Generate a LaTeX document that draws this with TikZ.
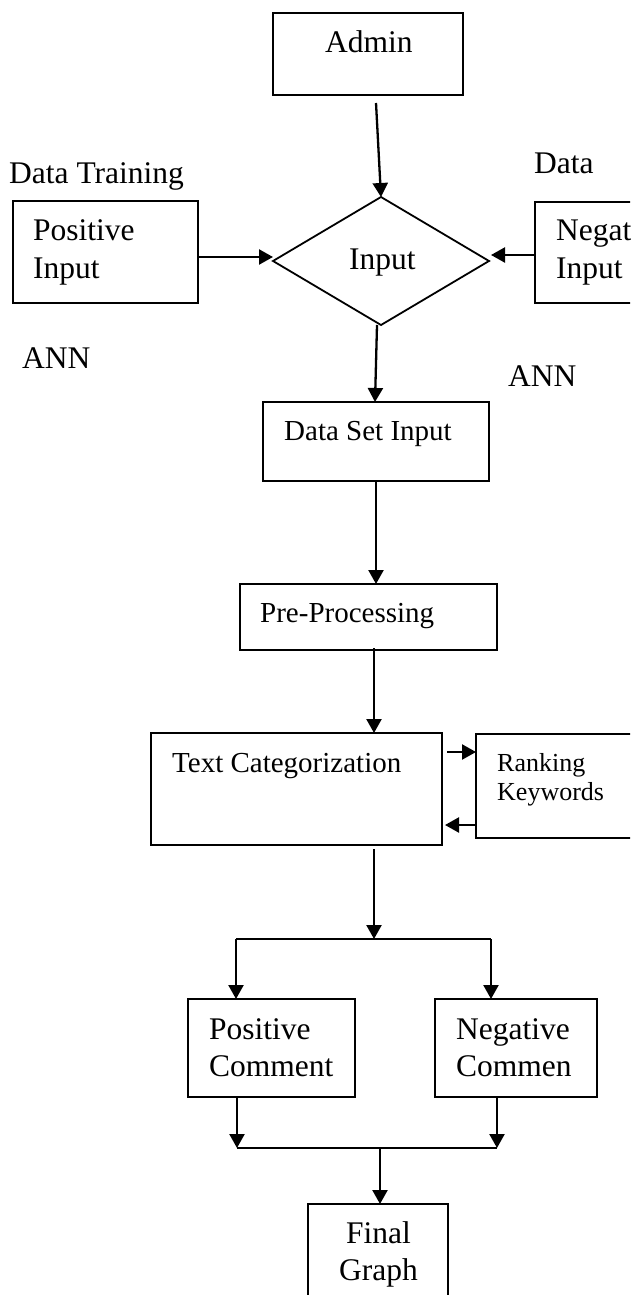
\documentclass[tikz,border=0pt]{standalone}
\usepackage{fontspec}
\setmainfont{Liberation Serif}
\usetikzlibrary{arrows.meta,shapes.geometric,calc}
\begin{document}
\begin{tikzpicture}[x=1pt,y=-1pt,
  box/.style={draw, line width=1.8pt, rectangle, inner sep=0pt, outer sep=0pt},
  decision/.style={draw, line width=1.8pt, diamond, inner sep=0pt, outer sep=0pt},
  txtL/.style={font=\fontsize{31.5}{38}\selectfont, inner sep=0pt, anchor=base west},
  txtM/.style={font=\fontsize{29}{35}\selectfont, inner sep=0pt, anchor=base west},
  txtS/.style={font=\fontsize{26}{30}\selectfont, inner sep=0pt, anchor=base west},
  arr/.style={line width=2.3pt, -{Triangle[length=14pt,width=15pt]}},
  link/.style={line width=2.3pt}]
\useasboundingbox (0,0) rectangle (630,1295);
\fill[white] (0,0) rectangle (630,1295);
\clip (0,0) rectangle (630,1295);

% ---- boxes ----
\node[box, minimum width=190pt, minimum height=82pt]  (admin) at (368,54) {};
\node[box, minimum width=185pt, minimum height=102pt] (posin) at (105.5,252) {};
\node[box, minimum width=185pt, minimum height=101pt] (negin) at (627.5,252.5) {};
\node[decision, minimum width=216pt, minimum height=128pt] (dia) at (381,261) {};
\node[box, minimum width=226pt, minimum height=79pt]  (dsi) at (376,441.5) {};
\node[box, minimum width=257pt, minimum height=66pt]  (pre) at (368.5,617) {};
\node[box, minimum width=291pt, minimum height=112pt] (tc) at (296.5,789) {};
\node[box, minimum width=185pt, minimum height=104pt] (rank) at (568.5,786) {};
\node[box, minimum width=167pt, minimum height=98pt]  (pc) at (271.5,1048) {};
\node[box, minimum width=162pt, minimum height=98pt]  (nc) at (516,1048) {};
\node[box, minimum width=140pt, minimum height=110pt] (fg) at (378,1259) {};

% ---- texts ----
\node[txtL] (tAdmin) at (325,53) {Admin};
\node[txtL] (tTrain) at (9,183) {Data Training};
\node[txtL] (tPos1) at (33,240) {Positive};
\node[txtL] (tPos2) at (33,278) {Input};
\node[txtL] (tIn) at (349,269) {Input};
\node[txtL] (tData) at (534,173) {Data};
\node[txtL] (tNeg1) at (556,240) {Negative};
\node[txtL] (tNeg2) at (556,278) {Input};
\node[txtL] (tAnnL) at (22,368) {ANN};
\node[txtL] (tAnnR) at (508,386) {ANN};
\node[txtM] (tDsi) at (284,440) {Data Set Input};
\node[txtM] (tPre) at (260,622) {Pre-Processing};
\node[txtM] (tTc) at (172,772) {Text Categorization};
\node[txtS] (tRk1) at (497,771) {Ranking};
\node[txtS] (tRk2) at (497,800) {Keywords};
\node[txtL] (tPc1) at (209,1039) {Positive};
\node[txtL] (tPc2) at (209,1076) {Comment};
\node[txtL] (tNc1) at (456,1039) {Negative};
\node[txtL] (tNc2) at (456,1076) {Commen};
\node[txtL] (tFg1) at (346,1243) {Final};
\node[txtL] (tFg2) at (339,1280) {Graph};

% ---- junction points ----
\coordinate (r1) at (447,752);
\coordinate (r2) at (445,825);
\coordinate (j1) at (374,939);
\coordinate (bl) at (236,939);
\coordinate (br) at (491,939);
\coordinate (ml) at (237,1148);
\coordinate (mr) at (497,1148);
\coordinate (m)  at (380,1148);

% ---- connectors ----
\draw[arr] ([xshift=8pt,yshift=-8pt]admin.south) -- (dia.north);
\draw[arr] ([yshift=-5pt]posin.east) -- ([yshift=4pt]dia.west);
\draw[arr] ([yshift=-2.5pt]negin.west) -- ([xshift=2pt,yshift=6pt]dia.east);
\draw[arr] ([xshift=-4pt]dia.south) -- ([xshift=-1pt]dsi.north);
\draw[arr] (dsi.south) -- (dsi.south |- pre.north);
\draw[arr] ([xshift=5.5pt,yshift=2pt]pre.south) -- (tc.north -| j1);
\draw[arr] (r1) -- (r1 -| rank.west);
\draw[arr] (r2 -| rank.west) -- (r2);
\draw[arr] ($(j1 |- tc.south)+(0,4)$) -- (j1);
\draw[link] (bl) -- (br);
\draw[arr] (bl) -- (bl |- pc.north);
\draw[arr] (br) -- (br |- nc.north);
\draw[arr] (ml |- pc.south) -- (ml);
\draw[arr] (mr |- nc.south) -- (mr);
\draw[link] (ml) -- (mr);
\draw[arr] (m) -- (m |- fg.north);
\end{tikzpicture}
\end{document}
